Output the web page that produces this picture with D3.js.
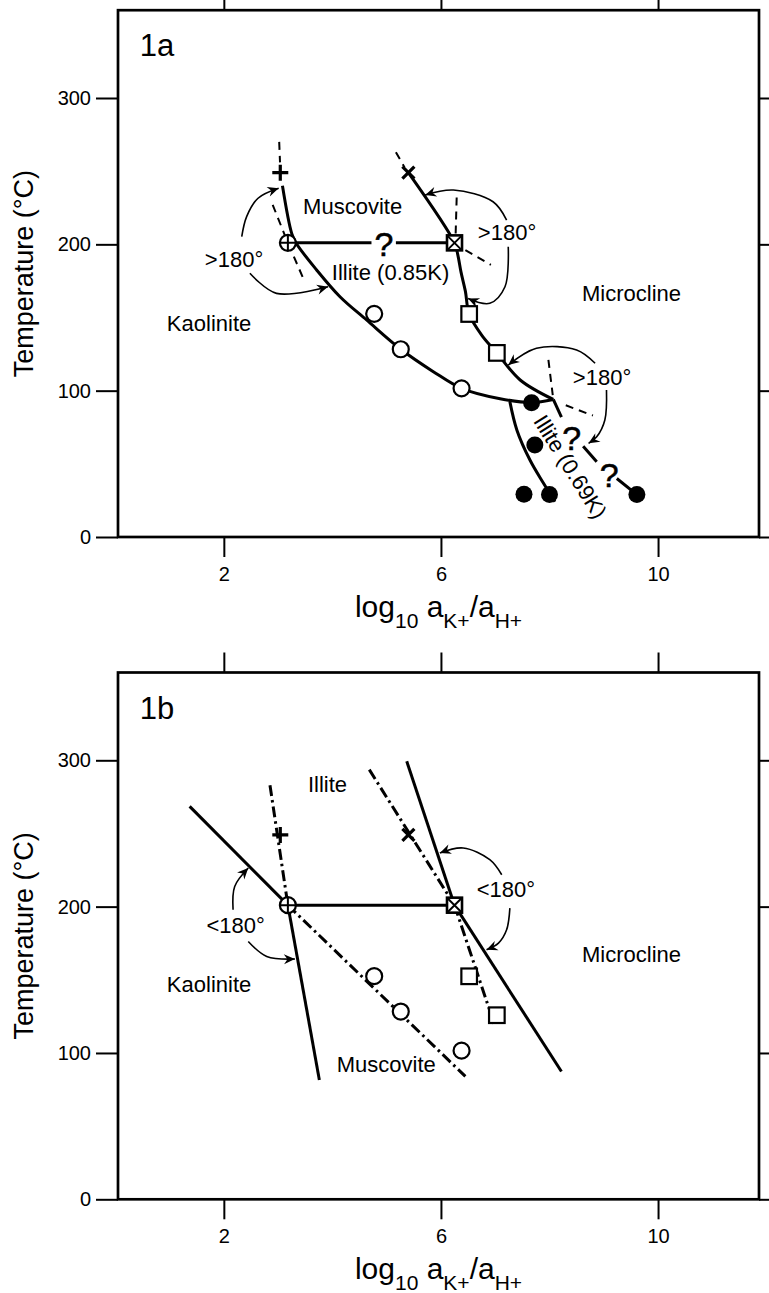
<!DOCTYPE html>
<html>
<head>
<meta charset="utf-8">
<script src="https://cdn.jsdelivr.net/npm/d3@7"></script>
<style>
  html, body { margin: 0; padding: 0; background: #fff; }
  svg { display: block; }
</style>
</head>
<body>
<div id="chart"></div>
<script>
// axes
const xTicks = [2, 6, 10];
const yTicks = [0, 100, 200, 300];
const xDomain = [0.05, 11.86];
const yDomain = [0, 360];

// sample points: [log10 aK+/aH+, T (°C)]
const kaolMuscPts = [[3.18, 201]];   // circled plus
const muscMicroPts = [[6.25, 201]];  // boxed x
const plusPts = [[3.04, 249]];
const crossPts = [[5.4, 249]];
const openCircles = [[4.77, 152.5], [5.26, 128.3], [6.38, 101.6]];
const openSquares = [[6.52, 152.4], [7.03, 125.8]];
const filledCircles = [[7.67, 91.8], [7.73, 62.9], [7.53, 29.2], [8.0, 29.0], [9.61, 29.0]];

// panel 1a boundaries
const kaolIlliteA = [[3.08, 240], [3.25, 207.5], [3.33, 200.9], [3.71, 182.5], [4.14, 164.2], [4.63, 148.3],
  [5.26, 128.3], [5.86, 113], [6.38, 101.6], [7.09, 94.5], [7.67, 92], [8.07, 94]];
const microIlliteA = [[5.4, 249], [6.25, 201], [6.31, 193], [6.37, 181], [6.45, 168], [6.52, 152.4],
  [6.75, 138], [7.03, 125.8], [7.46, 107.3], [8.07, 94]];
const illite69A = [[7.27, 92.5], [7.4, 73], [7.64, 52.6], [7.89, 36.7], [8.1, 24.1]];
const queryLineA = [[[8.07, 94], [8.22, 82]], [[8.62, 62], [8.87, 51.5]], [[9.24, 40], [9.61, 29]]];
const tieLineA = [[[3.18, 201], [4.72, 201]], [[5.17, 201], [6.25, 201]]];
const dashedA = [
  [[3.02, 270], [3.035, 256]],
  [[2.9, 227], [3.18, 201], [3.46, 177]],
  [[5.17, 263], [5.33, 252.5]],
  [[6.29, 232], [6.27, 206]],
  [[6.45, 196], [6.92, 186]],
  [[7.98, 121], [8.06, 97]],
  [[8.3, 90], [8.8, 83]]
];
const arrowsA = [
  [[2.33, 205.2], [2.42, 218.9], [2.63, 231.5], [3.01, 238.3]],
  [[2.48, 180.2], [2.97, 166.5], [3.92, 171]],
  [[7.21, 216.6], [6.96, 229.1], [6.23, 237.1], [5.71, 233.7]],
  [[7.24, 198.4], [7.18, 171], [6.9, 159.7], [6.5, 163]],
  [[8.84, 118.7], [8.5, 127.8], [7.76, 129], [7.24, 117.5]],
  [[9.05, 100.5], [9.02, 80], [8.87, 68.5], [8.72, 64]]
];
const labelsA = [
  {text: 'Muscovite', v: 3.46, t: 220.5},
  {text: 'Illite (0.85K)', v: 3.99, t: 175.3},
  {text: 'Kaolinite', v: 0.95, t: 141},
  {text: 'Microcline', v: 8.6, t: 161.3},
  {text: '>180°', v: 1.65, t: 184.7},
  {text: '>180°', v: 6.68, t: 203},
  {text: '>180°', v: 8.43, t: 103.9}
];
const queriesA = [[4.95, 192.2], [8.41, 59.5], [9.1, 34.2]];
const rotatedLabelA = {text: 'Illite (0.69K)', v: 8.38, t: 48, angle: 58};

// panel 1b boundaries
const solidB = [
  [[1.37, 268.5], [3.18, 201]],
  [[3.18, 201], [3.76, 81.6]],
  [[5.37, 299.3], [6.25, 201]],
  [[6.25, 201], [8.22, 87.3]],
  [[3.18, 201], [6.25, 201]]
];
const dashDotB = [
  [[3.18, 201], [6.45, 84]],
  [[2.85, 283], [3.18, 201]],
  [[4.68, 293.6], [6.25, 201]],
  [[6.25, 201], [6.98, 120]]
];
const arrowsB = [
  [[2.17, 197.9], [2.2, 213.8], [2.45, 226.4]],
  [[2.45, 176.2], [2.79, 166], [3.31, 164.2]],
  [[7.12, 221.8], [6.9, 232.1], [6.41, 240.1], [5.98, 236.7]],
  [[7.27, 199], [7.21, 184.2], [7.06, 175.1], [6.84, 170.5]]
];
const labelsB = [
  {text: 'Illite', v: 3.55, t: 278.1},
  {text: 'Kaolinite', v: 0.95, t: 142},
  {text: 'Muscovite', v: 4.08, t: 86.8},
  {text: 'Microcline', v: 8.6, t: 162.3},
  {text: '<180°', v: 1.68, t: 182.3},
  {text: '<180°', v: 6.66, t: 206.3}
];

const FONT = '"Liberation Sans", Arial, Helvetica, sans-serif';
const frameLeft = 118, frameRight = 759, panelH = 526.8;

const svg = d3.select('#chart').append('svg')
  .attr('width', 769).attr('height', 1293)
  .style('font-family', FONT);

svg.append('rect').attr('width', 769).attr('height', 1293).attr('fill', '#fff');

svg.append('defs').append('marker')
  .attr('id', 'arrowhead')
  .attr('viewBox', '-12 -6 13 12')
  .attr('refX', 0).attr('refY', 0)
  .attr('markerWidth', 13).attr('markerHeight', 12)
  .attr('markerUnits', 'userSpaceOnUse')
  .attr('orient', 'auto')
  .append('path')
  .attr('d', 'M0,0 L-11,-5 L-7.5,0 L-11,5 Z')
  .attr('fill', '#000');

function drawPanel(top, panel) {
  const g = svg.append('g').attr('transform', `translate(0,${top})`);
  const x = d3.scaleLinear().domain(xDomain).range([frameLeft, frameRight]);
  const y = d3.scaleLinear().domain(yDomain).range([panelH, 0]);
  const straight = d3.line().x(d => x(d[0])).y(d => y(d[1]));
  const smooth = d3.line().x(d => x(d[0])).y(d => y(d[1])).curve(d3.curveCatmullRom.alpha(0.5));

  // axes, ticks pointing outward on all four sides
  g.append('g').attr('transform', `translate(0,${panelH})`)
    .call(d3.axisBottom(x).tickValues(xTicks).tickSize(20).tickPadding(10).tickSizeOuter(0));
  g.append('g')
    .call(d3.axisTop(x).tickValues(xTicks).tickSize(20).tickFormat('').tickSizeOuter(0));
  g.append('g').attr('transform', `translate(${frameLeft},0)`)
    .call(d3.axisLeft(y).tickValues(yTicks).tickSize(22).tickPadding(5).tickSizeOuter(0));
  g.append('g').attr('transform', `translate(${frameRight},0)`)
    .call(d3.axisRight(y).tickValues(yTicks).tickSize(20).tickFormat('').tickSizeOuter(0));
  g.selectAll('.domain').remove();
  g.selectAll('.tick line').attr('stroke', '#000').attr('stroke-width', 2);
  g.selectAll('.tick text').attr('font-size', 20).attr('font-family', FONT).attr('fill', '#000');

  g.append('rect')
    .attr('x', frameLeft).attr('y', 0)
    .attr('width', frameRight - frameLeft).attr('height', panelH)
    .attr('fill', 'none').attr('stroke', '#000').attr('stroke-width', 2.7);

  // axis titles
  const xt = g.append('text')
    .attr('x', (frameLeft + frameRight) / 2).attr('y', panelH + 80)
    .attr('text-anchor', 'middle').attr('font-size', 30);
  xt.append('tspan').text('log');
  xt.append('tspan').attr('font-size', 21).attr('dy', 11).text('10');
  xt.append('tspan').attr('dy', -11).text(' a');
  xt.append('tspan').attr('font-size', 21).attr('dy', 11).text('K+');
  xt.append('tspan').attr('dy', -11).text('/a');
  xt.append('tspan').attr('font-size', 21).attr('dy', 11).text('H+');

  g.append('text')
    .attr('transform', `translate(33,${panelH / 2}) rotate(-90)`)
    .attr('text-anchor', 'middle').attr('font-size', 27)
    .text('Temperature (°C)');

  g.append('text')
    .attr('x', x(0.45)).attr('y', y(328.5))
    .attr('font-size', 31)
    .text(panel.name);

  panel.draw(g, x, y, straight, smooth);

  // labels
  g.selectAll('text.region')
    .data(panel.labels)
    .join('text')
    .attr('class', 'region')
    .attr('x', d => x(d.v)).attr('y', d => y(d.t))
    .attr('font-size', 22)
    .text(d => d.text);

  // arrows
  g.selectAll('path.arrow')
    .data(panel.arrows)
    .join('path')
    .attr('class', 'arrow')
    .attr('d', smooth)
    .attr('fill', 'none').attr('stroke', '#000').attr('stroke-width', 1.6)
    .attr('marker-end', 'url(#arrowhead)');

  // markers
  const m = g.append('g');
  m.selectAll('circle.open').data(openCircles).join('circle')
    .attr('class', 'open')
    .attr('cx', d => x(d[0])).attr('cy', d => y(d[1])).attr('r', 8)
    .attr('fill', '#fff').attr('stroke', '#000').attr('stroke-width', 2.2);
  m.selectAll('rect.open').data(openSquares).join('rect')
    .attr('class', 'open')
    .attr('x', d => x(d[0]) - 7.8).attr('y', d => y(d[1]) - 7.8)
    .attr('width', 15.6).attr('height', 15.6)
    .attr('fill', '#fff').attr('stroke', '#000').attr('stroke-width', 2.2);

  kaolMuscPts.forEach(d => {
    const cx = x(d[0]), cy = y(d[1]);
    m.append('circle').attr('cx', cx).attr('cy', cy).attr('r', 8)
      .attr('fill', '#fff').attr('stroke', '#000').attr('stroke-width', 2.2);
    m.append('path').attr('d', `M${cx - 8},${cy}H${cx + 8}M${cx},${cy - 8}V${cy + 8}`)
      .attr('stroke', '#000').attr('stroke-width', 2);
  });
  muscMicroPts.forEach(d => {
    const cx = x(d[0]), cy = y(d[1]), h = 7.5;
    m.append('rect').attr('x', cx - h).attr('y', cy - h).attr('width', 2 * h).attr('height', 2 * h)
      .attr('fill', '#fff').attr('stroke', '#000').attr('stroke-width', 2.6);
    m.append('path').attr('d', `M${cx - h},${cy - h}L${cx + h},${cy + h}M${cx + h},${cy - h}L${cx - h},${cy + h}`)
      .attr('stroke', '#000').attr('stroke-width', 2);
  });
  plusPts.forEach(d => {
    const cx = x(d[0]), cy = y(d[1]);
    m.append('path').attr('d', `M${cx - 8},${cy}H${cx + 8}M${cx},${cy - 8}V${cy + 8}`)
      .attr('stroke', '#000').attr('stroke-width', 3.2);
  });
  crossPts.forEach(d => {
    const cx = x(d[0]), cy = y(d[1]), h = 6;
    m.append('path').attr('d', `M${cx - h},${cy - h}L${cx + h},${cy + h}M${cx + h},${cy - h}L${cx - h},${cy + h}`)
      .attr('stroke', '#000').attr('stroke-width', 3.2);
  });
  if (panel.filled) {
    m.selectAll('circle.filled').data(filledCircles).join('circle')
      .attr('class', 'filled')
      .attr('cx', d => x(d[0])).attr('cy', d => y(d[1])).attr('r', 8.5)
      .attr('fill', '#000');
  }
  return g;
}

// panel 1a
drawPanel(10.2, {
  name: '1a',
  labels: labelsA,
  arrows: arrowsA,
  filled: true,
  draw: (g, x, y, straight, smooth) => {
    g.append('path').attr('d', smooth(kaolIlliteA))
      .attr('fill', 'none').attr('stroke', '#000').attr('stroke-width', 3);
    g.append('path').attr('d', smooth(microIlliteA))
      .attr('fill', 'none').attr('stroke', '#000').attr('stroke-width', 3);
    g.append('path').attr('d', smooth(illite69A))
      .attr('fill', 'none').attr('stroke', '#000').attr('stroke-width', 3);
    g.selectAll('path.seg').data(queryLineA.concat(tieLineA)).join('path')
      .attr('class', 'seg').attr('d', straight)
      .attr('fill', 'none').attr('stroke', '#000').attr('stroke-width', 3);
    g.selectAll('path.dash').data(dashedA).join('path')
      .attr('class', 'dash').attr('d', straight)
      .attr('fill', 'none').attr('stroke', '#000').attr('stroke-width', 2)
      .attr('stroke-dasharray', '8,6');
    g.selectAll('text.query').data(queriesA).join('text')
      .attr('class', 'query')
      .attr('x', d => x(d[0])).attr('y', d => y(d[1]))
      .attr('text-anchor', 'middle').attr('font-size', 34)
      .attr('stroke', '#000').attr('stroke-width', 0.5)
      .text('?');
    g.append('text')
      .attr('transform', `translate(${x(rotatedLabelA.v)},${y(rotatedLabelA.t)}) rotate(${rotatedLabelA.angle})`)
      .attr('text-anchor', 'middle').attr('dominant-baseline', 'central')
      .attr('font-size', 22)
      .text(rotatedLabelA.text);
  }
});

// panel 1b
drawPanel(672.5, {
  name: '1b',
  labels: labelsB,
  arrows: arrowsB,
  filled: false,
  draw: (g, x, y, straight) => {
    g.selectAll('path.solid').data(solidB).join('path')
      .attr('class', 'solid').attr('d', straight)
      .attr('fill', 'none').attr('stroke', '#000').attr('stroke-width', 3);
    g.selectAll('path.dashdot').data(dashDotB).join('path')
      .attr('class', 'dashdot').attr('d', straight)
      .attr('fill', 'none').attr('stroke', '#000').attr('stroke-width', 3)
      .attr('stroke-dasharray', '11,4,2.5,4');
  }
});
</script>
</body>
</html>
